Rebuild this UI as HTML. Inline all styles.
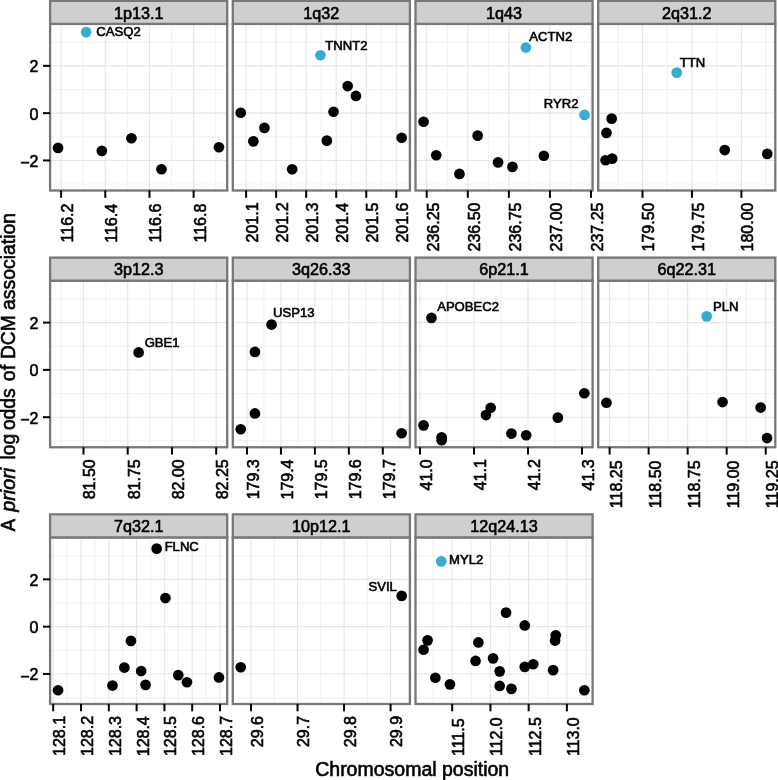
<!DOCTYPE html>
<html><head><meta charset="utf-8"><style>
html,body{margin:0;padding:0;background:#fff;}
svg{display:block;will-change:transform;}
text{font-family:"Liberation Sans",sans-serif;fill:#000;stroke:#000;stroke-width:0.6px;}
.ax{font-size:16.0px;}
.lab{font-size:13.1px;}
.st{font-size:16.2px;}
.xt{font-size:16.0px;}
.tt{font-size:20.5px;}
</style></head><body>
<svg width="778" height="780" viewBox="0 0 778 780">
<rect width="778" height="780" fill="#fff"/>
<rect x="50.1" y="23.9" width="177.1" height="166.6" fill="#fff"/>
<line x1="83.19" y1="23.9" x2="83.19" y2="190.5" stroke="#f3f3f3" stroke-width="1.25"/>
<line x1="127.35" y1="23.9" x2="127.35" y2="190.5" stroke="#f3f3f3" stroke-width="1.25"/>
<line x1="171.53" y1="23.9" x2="171.53" y2="190.5" stroke="#f3f3f3" stroke-width="1.25"/>
<line x1="215.69" y1="23.9" x2="215.69" y2="190.5" stroke="#f3f3f3" stroke-width="1.25"/>
<line x1="50.1" y1="42.2" x2="227.2" y2="42.2" stroke="#f3f3f3" stroke-width="1.25"/>
<line x1="50.1" y1="89.5" x2="227.2" y2="89.5" stroke="#f3f3f3" stroke-width="1.25"/>
<line x1="50.1" y1="136.8" x2="227.2" y2="136.8" stroke="#f3f3f3" stroke-width="1.25"/>
<line x1="50.1" y1="184.1" x2="227.2" y2="184.1" stroke="#f3f3f3" stroke-width="1.25"/>
<line x1="61.1" y1="23.9" x2="61.1" y2="190.5" stroke="#e6e6e6" stroke-width="1.1"/>
<line x1="105.27" y1="23.9" x2="105.27" y2="190.5" stroke="#e6e6e6" stroke-width="1.1"/>
<line x1="149.44" y1="23.9" x2="149.44" y2="190.5" stroke="#e6e6e6" stroke-width="1.1"/>
<line x1="193.61" y1="23.9" x2="193.61" y2="190.5" stroke="#e6e6e6" stroke-width="1.1"/>
<line x1="50.1" y1="65.85" x2="227.2" y2="65.85" stroke="#e6e6e6" stroke-width="1.1"/>
<line x1="50.1" y1="113.15" x2="227.2" y2="113.15" stroke="#e6e6e6" stroke-width="1.1"/>
<line x1="50.1" y1="160.45" x2="227.2" y2="160.45" stroke="#e6e6e6" stroke-width="1.1"/>
<circle cx="86.15" cy="32.15" r="5.35" fill="#39abd0"/>
<circle cx="58.05" cy="147.95" r="5.35" fill="#000"/>
<circle cx="101.85" cy="150.85" r="5.35" fill="#000"/>
<circle cx="131.45" cy="138.25" r="5.35" fill="#000"/>
<circle cx="161.45" cy="169.25" r="5.35" fill="#000"/>
<circle cx="218.95" cy="147.25" r="5.35" fill="#000"/>
<text x="96.33" y="36.2" class="lab">CASQ2</text>
<rect x="50.1" y="23.9" width="177.1" height="166.6" fill="none" stroke="#777777" stroke-width="2.3"/>
<rect x="50.1" y="0.85" width="177.1" height="23.05" fill="#cfcfcf" stroke="#777777" stroke-width="2.3"/>
<text x="138.65" y="19.25" text-anchor="middle" class="st">1p13.1</text>
<line x1="61.1" y1="190.5" x2="61.1" y2="197.8" stroke="#000" stroke-width="2"/>
<text transform="translate(73 242.43) rotate(-90)" class="xt">116.2</text>
<line x1="105.27" y1="190.5" x2="105.27" y2="197.8" stroke="#000" stroke-width="2"/>
<text transform="translate(117.17 242.77) rotate(-90)" class="xt">116.4</text>
<line x1="149.44" y1="190.5" x2="149.44" y2="197.8" stroke="#000" stroke-width="2"/>
<text transform="translate(161.34 242.54) rotate(-90)" class="xt">116.6</text>
<line x1="193.61" y1="190.5" x2="193.61" y2="197.8" stroke="#000" stroke-width="2"/>
<text transform="translate(205.51 242.54) rotate(-90)" class="xt">116.8</text>
<rect x="232.8" y="23.9" width="177.1" height="166.6" fill="#fff"/>
<line x1="261.12" y1="23.9" x2="261.12" y2="190.5" stroke="#f3f3f3" stroke-width="1.25"/>
<line x1="291.16" y1="23.9" x2="291.16" y2="190.5" stroke="#f3f3f3" stroke-width="1.25"/>
<line x1="321.2" y1="23.9" x2="321.2" y2="190.5" stroke="#f3f3f3" stroke-width="1.25"/>
<line x1="351.24" y1="23.9" x2="351.24" y2="190.5" stroke="#f3f3f3" stroke-width="1.25"/>
<line x1="381.28" y1="23.9" x2="381.28" y2="190.5" stroke="#f3f3f3" stroke-width="1.25"/>
<line x1="232.8" y1="42.2" x2="409.9" y2="42.2" stroke="#f3f3f3" stroke-width="1.25"/>
<line x1="232.8" y1="89.5" x2="409.9" y2="89.5" stroke="#f3f3f3" stroke-width="1.25"/>
<line x1="232.8" y1="136.8" x2="409.9" y2="136.8" stroke="#f3f3f3" stroke-width="1.25"/>
<line x1="232.8" y1="184.1" x2="409.9" y2="184.1" stroke="#f3f3f3" stroke-width="1.25"/>
<line x1="246.1" y1="23.9" x2="246.1" y2="190.5" stroke="#e6e6e6" stroke-width="1.1"/>
<line x1="276.14" y1="23.9" x2="276.14" y2="190.5" stroke="#e6e6e6" stroke-width="1.1"/>
<line x1="306.18" y1="23.9" x2="306.18" y2="190.5" stroke="#e6e6e6" stroke-width="1.1"/>
<line x1="336.22" y1="23.9" x2="336.22" y2="190.5" stroke="#e6e6e6" stroke-width="1.1"/>
<line x1="366.26" y1="23.9" x2="366.26" y2="190.5" stroke="#e6e6e6" stroke-width="1.1"/>
<line x1="396.3" y1="23.9" x2="396.3" y2="190.5" stroke="#e6e6e6" stroke-width="1.1"/>
<line x1="232.8" y1="65.85" x2="409.9" y2="65.85" stroke="#e6e6e6" stroke-width="1.1"/>
<line x1="232.8" y1="113.15" x2="409.9" y2="113.15" stroke="#e6e6e6" stroke-width="1.1"/>
<line x1="232.8" y1="160.45" x2="409.9" y2="160.45" stroke="#e6e6e6" stroke-width="1.1"/>
<circle cx="320.45" cy="55.25" r="5.35" fill="#39abd0"/>
<circle cx="240.75" cy="112.75" r="5.35" fill="#000"/>
<circle cx="253.35" cy="141.35" r="5.35" fill="#000"/>
<circle cx="264.45" cy="127.85" r="5.35" fill="#000"/>
<circle cx="292.15" cy="169.25" r="5.35" fill="#000"/>
<circle cx="326.85" cy="140.65" r="5.35" fill="#000"/>
<circle cx="333.55" cy="111.75" r="5.35" fill="#000"/>
<circle cx="347.65" cy="86.05" r="5.35" fill="#000"/>
<circle cx="355.95" cy="95.95" r="5.35" fill="#000"/>
<circle cx="401.65" cy="137.75" r="5.35" fill="#000"/>
<text x="325.31" y="50.3" class="lab">TNNT2</text>
<rect x="232.8" y="23.9" width="177.1" height="166.6" fill="none" stroke="#777777" stroke-width="2.3"/>
<rect x="232.8" y="0.85" width="177.1" height="23.05" fill="#cfcfcf" stroke="#777777" stroke-width="2.3"/>
<text x="321.35" y="19.25" text-anchor="middle" class="st">1q32</text>
<line x1="246.1" y1="190.5" x2="246.1" y2="197.8" stroke="#000" stroke-width="2"/>
<text transform="translate(258 242.46) rotate(-90)" class="xt">201.1</text>
<line x1="276.14" y1="190.5" x2="276.14" y2="197.8" stroke="#000" stroke-width="2"/>
<text transform="translate(288.04 242.43) rotate(-90)" class="xt">201.2</text>
<line x1="306.18" y1="190.5" x2="306.18" y2="197.8" stroke="#000" stroke-width="2"/>
<text transform="translate(318.08 242.54) rotate(-90)" class="xt">201.3</text>
<line x1="336.22" y1="190.5" x2="336.22" y2="197.8" stroke="#000" stroke-width="2"/>
<text transform="translate(348.12 242.77) rotate(-90)" class="xt">201.4</text>
<line x1="366.26" y1="190.5" x2="366.26" y2="197.8" stroke="#000" stroke-width="2"/>
<text transform="translate(378.16 242.57) rotate(-90)" class="xt">201.5</text>
<line x1="396.3" y1="190.5" x2="396.3" y2="197.8" stroke="#000" stroke-width="2"/>
<text transform="translate(408.2 242.54) rotate(-90)" class="xt">201.6</text>
<rect x="415.5" y="23.9" width="177.1" height="166.6" fill="#fff"/>
<line x1="447.24" y1="23.9" x2="447.24" y2="190.5" stroke="#f3f3f3" stroke-width="1.25"/>
<line x1="488.32" y1="23.9" x2="488.32" y2="190.5" stroke="#f3f3f3" stroke-width="1.25"/>
<line x1="529.4" y1="23.9" x2="529.4" y2="190.5" stroke="#f3f3f3" stroke-width="1.25"/>
<line x1="570.48" y1="23.9" x2="570.48" y2="190.5" stroke="#f3f3f3" stroke-width="1.25"/>
<line x1="415.5" y1="42.2" x2="592.6" y2="42.2" stroke="#f3f3f3" stroke-width="1.25"/>
<line x1="415.5" y1="89.5" x2="592.6" y2="89.5" stroke="#f3f3f3" stroke-width="1.25"/>
<line x1="415.5" y1="136.8" x2="592.6" y2="136.8" stroke="#f3f3f3" stroke-width="1.25"/>
<line x1="415.5" y1="184.1" x2="592.6" y2="184.1" stroke="#f3f3f3" stroke-width="1.25"/>
<line x1="426.7" y1="23.9" x2="426.7" y2="190.5" stroke="#e6e6e6" stroke-width="1.1"/>
<line x1="467.78" y1="23.9" x2="467.78" y2="190.5" stroke="#e6e6e6" stroke-width="1.1"/>
<line x1="508.86" y1="23.9" x2="508.86" y2="190.5" stroke="#e6e6e6" stroke-width="1.1"/>
<line x1="549.94" y1="23.9" x2="549.94" y2="190.5" stroke="#e6e6e6" stroke-width="1.1"/>
<line x1="591.02" y1="23.9" x2="591.02" y2="190.5" stroke="#e6e6e6" stroke-width="1.1"/>
<line x1="415.5" y1="65.85" x2="592.6" y2="65.85" stroke="#e6e6e6" stroke-width="1.1"/>
<line x1="415.5" y1="113.15" x2="592.6" y2="113.15" stroke="#e6e6e6" stroke-width="1.1"/>
<line x1="415.5" y1="160.45" x2="592.6" y2="160.45" stroke="#e6e6e6" stroke-width="1.1"/>
<circle cx="525.85" cy="47.55" r="5.35" fill="#39abd0"/>
<circle cx="584.55" cy="114.95" r="5.35" fill="#39abd0"/>
<circle cx="423.55" cy="121.75" r="5.35" fill="#000"/>
<circle cx="436.25" cy="155.25" r="5.35" fill="#000"/>
<circle cx="459.45" cy="173.95" r="5.35" fill="#000"/>
<circle cx="477.65" cy="135.65" r="5.35" fill="#000"/>
<circle cx="498.05" cy="162.35" r="5.35" fill="#000"/>
<circle cx="512.45" cy="166.85" r="5.35" fill="#000"/>
<circle cx="543.85" cy="155.75" r="5.35" fill="#000"/>
<text x="529.37" y="40.6" class="lab">ACTN2</text>
<text x="543.81" y="108.4" class="lab">RYR2</text>
<rect x="415.5" y="23.9" width="177.1" height="166.6" fill="none" stroke="#777777" stroke-width="2.3"/>
<rect x="415.5" y="0.85" width="177.1" height="23.05" fill="#cfcfcf" stroke="#777777" stroke-width="2.3"/>
<text x="504.05" y="19.25" text-anchor="middle" class="st">1q43</text>
<line x1="426.7" y1="190.5" x2="426.7" y2="197.8" stroke="#000" stroke-width="2"/>
<text transform="translate(438.6 251.47) rotate(-90)" class="xt">236.25</text>
<line x1="467.78" y1="190.5" x2="467.78" y2="197.8" stroke="#000" stroke-width="2"/>
<text transform="translate(479.68 251.51) rotate(-90)" class="xt">236.50</text>
<line x1="508.86" y1="190.5" x2="508.86" y2="197.8" stroke="#000" stroke-width="2"/>
<text transform="translate(520.76 251.47) rotate(-90)" class="xt">236.75</text>
<line x1="549.94" y1="190.5" x2="549.94" y2="197.8" stroke="#000" stroke-width="2"/>
<text transform="translate(561.84 251.51) rotate(-90)" class="xt">237.00</text>
<line x1="591.02" y1="190.5" x2="591.02" y2="197.8" stroke="#000" stroke-width="2"/>
<text transform="translate(602.92 251.47) rotate(-90)" class="xt">237.25</text>
<rect x="598.2" y="23.9" width="177.1" height="166.6" fill="#fff"/>
<line x1="617.77" y1="23.9" x2="617.77" y2="190.5" stroke="#f3f3f3" stroke-width="1.25"/>
<line x1="667.23" y1="23.9" x2="667.23" y2="190.5" stroke="#f3f3f3" stroke-width="1.25"/>
<line x1="716.67" y1="23.9" x2="716.67" y2="190.5" stroke="#f3f3f3" stroke-width="1.25"/>
<line x1="766.12" y1="23.9" x2="766.12" y2="190.5" stroke="#f3f3f3" stroke-width="1.25"/>
<line x1="598.2" y1="42.2" x2="775.3" y2="42.2" stroke="#f3f3f3" stroke-width="1.25"/>
<line x1="598.2" y1="89.5" x2="775.3" y2="89.5" stroke="#f3f3f3" stroke-width="1.25"/>
<line x1="598.2" y1="136.8" x2="775.3" y2="136.8" stroke="#f3f3f3" stroke-width="1.25"/>
<line x1="598.2" y1="184.1" x2="775.3" y2="184.1" stroke="#f3f3f3" stroke-width="1.25"/>
<line x1="642.5" y1="23.9" x2="642.5" y2="190.5" stroke="#e6e6e6" stroke-width="1.1"/>
<line x1="691.95" y1="23.9" x2="691.95" y2="190.5" stroke="#e6e6e6" stroke-width="1.1"/>
<line x1="741.4" y1="23.9" x2="741.4" y2="190.5" stroke="#e6e6e6" stroke-width="1.1"/>
<line x1="598.2" y1="65.85" x2="775.3" y2="65.85" stroke="#e6e6e6" stroke-width="1.1"/>
<line x1="598.2" y1="113.15" x2="775.3" y2="113.15" stroke="#e6e6e6" stroke-width="1.1"/>
<line x1="598.2" y1="160.45" x2="775.3" y2="160.45" stroke="#e6e6e6" stroke-width="1.1"/>
<circle cx="676.75" cy="72.65" r="5.35" fill="#39abd0"/>
<circle cx="611.65" cy="118.65" r="5.35" fill="#000"/>
<circle cx="606.45" cy="132.85" r="5.35" fill="#000"/>
<circle cx="605.55" cy="160.25" r="5.35" fill="#000"/>
<circle cx="612.15" cy="158.65" r="5.35" fill="#000"/>
<circle cx="724.75" cy="150.05" r="5.35" fill="#000"/>
<circle cx="767.25" cy="153.85" r="5.35" fill="#000"/>
<text x="679.81" y="67.3" class="lab">TTN</text>
<rect x="598.2" y="23.9" width="177.1" height="166.6" fill="none" stroke="#777777" stroke-width="2.3"/>
<rect x="598.2" y="0.85" width="177.1" height="23.05" fill="#cfcfcf" stroke="#777777" stroke-width="2.3"/>
<text x="686.75" y="19.25" text-anchor="middle" class="st">2q31.2</text>
<line x1="642.5" y1="190.5" x2="642.5" y2="197.8" stroke="#000" stroke-width="2"/>
<text transform="translate(654.4 251.51) rotate(-90)" class="xt">179.50</text>
<line x1="691.95" y1="190.5" x2="691.95" y2="197.8" stroke="#000" stroke-width="2"/>
<text transform="translate(703.85 251.47) rotate(-90)" class="xt">179.75</text>
<line x1="741.4" y1="190.5" x2="741.4" y2="197.8" stroke="#000" stroke-width="2"/>
<text transform="translate(753.3 251.51) rotate(-90)" class="xt">180.00</text>
<rect x="50.1" y="280.65" width="177.1" height="166.6" fill="#fff"/>
<line x1="61.39" y1="280.65" x2="61.39" y2="447.25" stroke="#f3f3f3" stroke-width="1.25"/>
<line x1="105.61" y1="280.65" x2="105.61" y2="447.25" stroke="#f3f3f3" stroke-width="1.25"/>
<line x1="149.84" y1="280.65" x2="149.84" y2="447.25" stroke="#f3f3f3" stroke-width="1.25"/>
<line x1="194.07" y1="280.65" x2="194.07" y2="447.25" stroke="#f3f3f3" stroke-width="1.25"/>
<line x1="50.1" y1="298.95" x2="227.2" y2="298.95" stroke="#f3f3f3" stroke-width="1.25"/>
<line x1="50.1" y1="346.25" x2="227.2" y2="346.25" stroke="#f3f3f3" stroke-width="1.25"/>
<line x1="50.1" y1="393.55" x2="227.2" y2="393.55" stroke="#f3f3f3" stroke-width="1.25"/>
<line x1="50.1" y1="440.85" x2="227.2" y2="440.85" stroke="#f3f3f3" stroke-width="1.25"/>
<line x1="83.5" y1="280.65" x2="83.5" y2="447.25" stroke="#e6e6e6" stroke-width="1.1"/>
<line x1="127.73" y1="280.65" x2="127.73" y2="447.25" stroke="#e6e6e6" stroke-width="1.1"/>
<line x1="171.96" y1="280.65" x2="171.96" y2="447.25" stroke="#e6e6e6" stroke-width="1.1"/>
<line x1="216.19" y1="280.65" x2="216.19" y2="447.25" stroke="#e6e6e6" stroke-width="1.1"/>
<line x1="50.1" y1="322.6" x2="227.2" y2="322.6" stroke="#e6e6e6" stroke-width="1.1"/>
<line x1="50.1" y1="369.9" x2="227.2" y2="369.9" stroke="#e6e6e6" stroke-width="1.1"/>
<line x1="50.1" y1="417.2" x2="227.2" y2="417.2" stroke="#e6e6e6" stroke-width="1.1"/>
<circle cx="138.65" cy="352.45" r="5.35" fill="#000"/>
<text x="144.64" y="346.8" class="lab">GBE1</text>
<rect x="50.1" y="280.65" width="177.1" height="166.6" fill="none" stroke="#777777" stroke-width="2.3"/>
<rect x="50.1" y="257.6" width="177.1" height="23.05" fill="#cfcfcf" stroke="#777777" stroke-width="2.3"/>
<text x="138.65" y="275.2" text-anchor="middle" class="st">3p12.3</text>
<line x1="83.5" y1="447.25" x2="83.5" y2="454.55" stroke="#000" stroke-width="2"/>
<text transform="translate(95.4 499.36) rotate(-90)" class="xt">81.50</text>
<line x1="127.73" y1="447.25" x2="127.73" y2="454.55" stroke="#000" stroke-width="2"/>
<text transform="translate(139.63 499.32) rotate(-90)" class="xt">81.75</text>
<line x1="171.96" y1="447.25" x2="171.96" y2="454.55" stroke="#000" stroke-width="2"/>
<text transform="translate(183.86 499.36) rotate(-90)" class="xt">82.00</text>
<line x1="216.19" y1="447.25" x2="216.19" y2="454.55" stroke="#000" stroke-width="2"/>
<text transform="translate(228.09 499.32) rotate(-90)" class="xt">82.25</text>
<rect x="232.8" y="280.65" width="177.1" height="166.6" fill="#fff"/>
<line x1="263.98" y1="280.65" x2="263.98" y2="447.25" stroke="#f3f3f3" stroke-width="1.25"/>
<line x1="297.93" y1="280.65" x2="297.93" y2="447.25" stroke="#f3f3f3" stroke-width="1.25"/>
<line x1="331.88" y1="280.65" x2="331.88" y2="447.25" stroke="#f3f3f3" stroke-width="1.25"/>
<line x1="365.83" y1="280.65" x2="365.83" y2="447.25" stroke="#f3f3f3" stroke-width="1.25"/>
<line x1="399.77" y1="280.65" x2="399.77" y2="447.25" stroke="#f3f3f3" stroke-width="1.25"/>
<line x1="232.8" y1="298.95" x2="409.9" y2="298.95" stroke="#f3f3f3" stroke-width="1.25"/>
<line x1="232.8" y1="346.25" x2="409.9" y2="346.25" stroke="#f3f3f3" stroke-width="1.25"/>
<line x1="232.8" y1="393.55" x2="409.9" y2="393.55" stroke="#f3f3f3" stroke-width="1.25"/>
<line x1="232.8" y1="440.85" x2="409.9" y2="440.85" stroke="#f3f3f3" stroke-width="1.25"/>
<line x1="247" y1="280.65" x2="247" y2="447.25" stroke="#e6e6e6" stroke-width="1.1"/>
<line x1="280.95" y1="280.65" x2="280.95" y2="447.25" stroke="#e6e6e6" stroke-width="1.1"/>
<line x1="314.9" y1="280.65" x2="314.9" y2="447.25" stroke="#e6e6e6" stroke-width="1.1"/>
<line x1="348.85" y1="280.65" x2="348.85" y2="447.25" stroke="#e6e6e6" stroke-width="1.1"/>
<line x1="382.8" y1="280.65" x2="382.8" y2="447.25" stroke="#e6e6e6" stroke-width="1.1"/>
<line x1="232.8" y1="322.6" x2="409.9" y2="322.6" stroke="#e6e6e6" stroke-width="1.1"/>
<line x1="232.8" y1="369.9" x2="409.9" y2="369.9" stroke="#e6e6e6" stroke-width="1.1"/>
<line x1="232.8" y1="417.2" x2="409.9" y2="417.2" stroke="#e6e6e6" stroke-width="1.1"/>
<circle cx="271.55" cy="324.55" r="5.35" fill="#000"/>
<circle cx="254.95" cy="351.95" r="5.35" fill="#000"/>
<circle cx="254.95" cy="413.45" r="5.35" fill="#000"/>
<circle cx="240.75" cy="429.25" r="5.35" fill="#000"/>
<circle cx="401.65" cy="433.25" r="5.35" fill="#000"/>
<text x="272.99" y="317.1" class="lab">USP13</text>
<rect x="232.8" y="280.65" width="177.1" height="166.6" fill="none" stroke="#777777" stroke-width="2.3"/>
<rect x="232.8" y="257.6" width="177.1" height="23.05" fill="#cfcfcf" stroke="#777777" stroke-width="2.3"/>
<text x="321.35" y="275.2" text-anchor="middle" class="st">3q26.33</text>
<line x1="247" y1="447.25" x2="247" y2="454.55" stroke="#000" stroke-width="2"/>
<text transform="translate(258.9 499.29) rotate(-90)" class="xt">179.3</text>
<line x1="280.95" y1="447.25" x2="280.95" y2="454.55" stroke="#000" stroke-width="2"/>
<text transform="translate(292.85 499.52) rotate(-90)" class="xt">179.4</text>
<line x1="314.9" y1="447.25" x2="314.9" y2="454.55" stroke="#000" stroke-width="2"/>
<text transform="translate(326.8 499.32) rotate(-90)" class="xt">179.5</text>
<line x1="348.85" y1="447.25" x2="348.85" y2="454.55" stroke="#000" stroke-width="2"/>
<text transform="translate(360.75 499.29) rotate(-90)" class="xt">179.6</text>
<line x1="382.8" y1="447.25" x2="382.8" y2="454.55" stroke="#000" stroke-width="2"/>
<text transform="translate(394.7 499.18) rotate(-90)" class="xt">179.7</text>
<rect x="415.5" y="280.65" width="177.1" height="166.6" fill="#fff"/>
<line x1="447" y1="280.65" x2="447" y2="447.25" stroke="#f3f3f3" stroke-width="1.25"/>
<line x1="501" y1="280.65" x2="501" y2="447.25" stroke="#f3f3f3" stroke-width="1.25"/>
<line x1="555" y1="280.65" x2="555" y2="447.25" stroke="#f3f3f3" stroke-width="1.25"/>
<line x1="415.5" y1="298.95" x2="592.6" y2="298.95" stroke="#f3f3f3" stroke-width="1.25"/>
<line x1="415.5" y1="346.25" x2="592.6" y2="346.25" stroke="#f3f3f3" stroke-width="1.25"/>
<line x1="415.5" y1="393.55" x2="592.6" y2="393.55" stroke="#f3f3f3" stroke-width="1.25"/>
<line x1="415.5" y1="440.85" x2="592.6" y2="440.85" stroke="#f3f3f3" stroke-width="1.25"/>
<line x1="420" y1="280.65" x2="420" y2="447.25" stroke="#e6e6e6" stroke-width="1.1"/>
<line x1="474" y1="280.65" x2="474" y2="447.25" stroke="#e6e6e6" stroke-width="1.1"/>
<line x1="528" y1="280.65" x2="528" y2="447.25" stroke="#e6e6e6" stroke-width="1.1"/>
<line x1="582" y1="280.65" x2="582" y2="447.25" stroke="#e6e6e6" stroke-width="1.1"/>
<line x1="415.5" y1="322.6" x2="592.6" y2="322.6" stroke="#e6e6e6" stroke-width="1.1"/>
<line x1="415.5" y1="369.9" x2="592.6" y2="369.9" stroke="#e6e6e6" stroke-width="1.1"/>
<line x1="415.5" y1="417.2" x2="592.6" y2="417.2" stroke="#e6e6e6" stroke-width="1.1"/>
<circle cx="431.45" cy="317.95" r="5.35" fill="#000"/>
<circle cx="423.55" cy="425.35" r="5.35" fill="#000"/>
<circle cx="441.65" cy="437.35" r="5.35" fill="#000"/>
<circle cx="441.65" cy="440.15" r="5.35" fill="#000"/>
<circle cx="485.95" cy="415.05" r="5.35" fill="#000"/>
<circle cx="490.65" cy="407.75" r="5.35" fill="#000"/>
<circle cx="511.45" cy="433.55" r="5.35" fill="#000"/>
<circle cx="526.15" cy="435.25" r="5.35" fill="#000"/>
<circle cx="557.85" cy="417.65" r="5.35" fill="#000"/>
<circle cx="584.35" cy="393.25" r="5.35" fill="#000"/>
<text x="437.17" y="311.4" class="lab">APOBEC2</text>
<rect x="415.5" y="280.65" width="177.1" height="166.6" fill="none" stroke="#777777" stroke-width="2.3"/>
<rect x="415.5" y="257.6" width="177.1" height="23.05" fill="#cfcfcf" stroke="#777777" stroke-width="2.3"/>
<text x="504.05" y="275.2" text-anchor="middle" class="st">6p21.1</text>
<line x1="420" y1="447.25" x2="420" y2="454.55" stroke="#000" stroke-width="2"/>
<text transform="translate(431.9 490.47) rotate(-90)" class="xt">41.0</text>
<line x1="474" y1="447.25" x2="474" y2="454.55" stroke="#000" stroke-width="2"/>
<text transform="translate(485.9 490.31) rotate(-90)" class="xt">41.1</text>
<line x1="528" y1="447.25" x2="528" y2="454.55" stroke="#000" stroke-width="2"/>
<text transform="translate(539.9 490.29) rotate(-90)" class="xt">41.2</text>
<line x1="582" y1="447.25" x2="582" y2="454.55" stroke="#000" stroke-width="2"/>
<text transform="translate(593.9 490.39) rotate(-90)" class="xt">41.3</text>
<rect x="598.2" y="280.65" width="177.1" height="166.6" fill="#fff"/>
<line x1="629.12" y1="280.65" x2="629.12" y2="447.25" stroke="#f3f3f3" stroke-width="1.25"/>
<line x1="668.14" y1="280.65" x2="668.14" y2="447.25" stroke="#f3f3f3" stroke-width="1.25"/>
<line x1="707.18" y1="280.65" x2="707.18" y2="447.25" stroke="#f3f3f3" stroke-width="1.25"/>
<line x1="746.21" y1="280.65" x2="746.21" y2="447.25" stroke="#f3f3f3" stroke-width="1.25"/>
<line x1="598.2" y1="298.95" x2="775.3" y2="298.95" stroke="#f3f3f3" stroke-width="1.25"/>
<line x1="598.2" y1="346.25" x2="775.3" y2="346.25" stroke="#f3f3f3" stroke-width="1.25"/>
<line x1="598.2" y1="393.55" x2="775.3" y2="393.55" stroke="#f3f3f3" stroke-width="1.25"/>
<line x1="598.2" y1="440.85" x2="775.3" y2="440.85" stroke="#f3f3f3" stroke-width="1.25"/>
<line x1="609.6" y1="280.65" x2="609.6" y2="447.25" stroke="#e6e6e6" stroke-width="1.1"/>
<line x1="648.63" y1="280.65" x2="648.63" y2="447.25" stroke="#e6e6e6" stroke-width="1.1"/>
<line x1="687.66" y1="280.65" x2="687.66" y2="447.25" stroke="#e6e6e6" stroke-width="1.1"/>
<line x1="726.69" y1="280.65" x2="726.69" y2="447.25" stroke="#e6e6e6" stroke-width="1.1"/>
<line x1="765.72" y1="280.65" x2="765.72" y2="447.25" stroke="#e6e6e6" stroke-width="1.1"/>
<line x1="598.2" y1="322.6" x2="775.3" y2="322.6" stroke="#e6e6e6" stroke-width="1.1"/>
<line x1="598.2" y1="369.9" x2="775.3" y2="369.9" stroke="#e6e6e6" stroke-width="1.1"/>
<line x1="598.2" y1="417.2" x2="775.3" y2="417.2" stroke="#e6e6e6" stroke-width="1.1"/>
<circle cx="706.65" cy="316.35" r="5.35" fill="#39abd0"/>
<circle cx="606.45" cy="402.75" r="5.35" fill="#000"/>
<circle cx="722.55" cy="402.05" r="5.35" fill="#000"/>
<circle cx="760.65" cy="407.55" r="5.35" fill="#000"/>
<circle cx="767.05" cy="438.05" r="5.35" fill="#000"/>
<text x="712.93" y="311.3" class="lab">PLN</text>
<rect x="598.2" y="280.65" width="177.1" height="166.6" fill="none" stroke="#777777" stroke-width="2.3"/>
<rect x="598.2" y="257.6" width="177.1" height="23.05" fill="#cfcfcf" stroke="#777777" stroke-width="2.3"/>
<text x="686.75" y="275.2" text-anchor="middle" class="st">6q22.31</text>
<line x1="609.6" y1="447.25" x2="609.6" y2="454.55" stroke="#000" stroke-width="2"/>
<text transform="translate(621.5 508.22) rotate(-90)" class="xt">118.25</text>
<line x1="648.63" y1="447.25" x2="648.63" y2="454.55" stroke="#000" stroke-width="2"/>
<text transform="translate(660.53 508.26) rotate(-90)" class="xt">118.50</text>
<line x1="687.66" y1="447.25" x2="687.66" y2="454.55" stroke="#000" stroke-width="2"/>
<text transform="translate(699.56 508.22) rotate(-90)" class="xt">118.75</text>
<line x1="726.69" y1="447.25" x2="726.69" y2="454.55" stroke="#000" stroke-width="2"/>
<text transform="translate(738.59 508.26) rotate(-90)" class="xt">119.00</text>
<line x1="765.72" y1="447.25" x2="765.72" y2="454.55" stroke="#000" stroke-width="2"/>
<text transform="translate(777.62 508.22) rotate(-90)" class="xt">119.25</text>
<rect x="50.1" y="537.4" width="177.1" height="166.6" fill="#fff"/>
<line x1="67.1" y1="537.4" x2="67.1" y2="704" stroke="#f3f3f3" stroke-width="1.25"/>
<line x1="94.9" y1="537.4" x2="94.9" y2="704" stroke="#f3f3f3" stroke-width="1.25"/>
<line x1="122.7" y1="537.4" x2="122.7" y2="704" stroke="#f3f3f3" stroke-width="1.25"/>
<line x1="150.5" y1="537.4" x2="150.5" y2="704" stroke="#f3f3f3" stroke-width="1.25"/>
<line x1="178.3" y1="537.4" x2="178.3" y2="704" stroke="#f3f3f3" stroke-width="1.25"/>
<line x1="206.1" y1="537.4" x2="206.1" y2="704" stroke="#f3f3f3" stroke-width="1.25"/>
<line x1="50.1" y1="555.7" x2="227.2" y2="555.7" stroke="#f3f3f3" stroke-width="1.25"/>
<line x1="50.1" y1="603" x2="227.2" y2="603" stroke="#f3f3f3" stroke-width="1.25"/>
<line x1="50.1" y1="650.3" x2="227.2" y2="650.3" stroke="#f3f3f3" stroke-width="1.25"/>
<line x1="50.1" y1="697.6" x2="227.2" y2="697.6" stroke="#f3f3f3" stroke-width="1.25"/>
<line x1="53.2" y1="537.4" x2="53.2" y2="704" stroke="#e6e6e6" stroke-width="1.1"/>
<line x1="81" y1="537.4" x2="81" y2="704" stroke="#e6e6e6" stroke-width="1.1"/>
<line x1="108.8" y1="537.4" x2="108.8" y2="704" stroke="#e6e6e6" stroke-width="1.1"/>
<line x1="136.6" y1="537.4" x2="136.6" y2="704" stroke="#e6e6e6" stroke-width="1.1"/>
<line x1="164.4" y1="537.4" x2="164.4" y2="704" stroke="#e6e6e6" stroke-width="1.1"/>
<line x1="192.2" y1="537.4" x2="192.2" y2="704" stroke="#e6e6e6" stroke-width="1.1"/>
<line x1="220" y1="537.4" x2="220" y2="704" stroke="#e6e6e6" stroke-width="1.1"/>
<line x1="50.1" y1="579.35" x2="227.2" y2="579.35" stroke="#e6e6e6" stroke-width="1.1"/>
<line x1="50.1" y1="626.65" x2="227.2" y2="626.65" stroke="#e6e6e6" stroke-width="1.1"/>
<line x1="50.1" y1="673.95" x2="227.2" y2="673.95" stroke="#e6e6e6" stroke-width="1.1"/>
<circle cx="156.65" cy="548.65" r="5.35" fill="#000"/>
<circle cx="165.45" cy="598.05" r="5.35" fill="#000"/>
<circle cx="130.95" cy="640.85" r="5.35" fill="#000"/>
<circle cx="124.35" cy="667.55" r="5.35" fill="#000"/>
<circle cx="141.15" cy="671.05" r="5.35" fill="#000"/>
<circle cx="112.45" cy="685.55" r="5.35" fill="#000"/>
<circle cx="145.55" cy="684.85" r="5.35" fill="#000"/>
<circle cx="178.25" cy="675.15" r="5.35" fill="#000"/>
<circle cx="186.95" cy="682.25" r="5.35" fill="#000"/>
<circle cx="218.95" cy="677.45" r="5.35" fill="#000"/>
<circle cx="58.05" cy="690.25" r="5.35" fill="#000"/>
<text x="164.63" y="551.4" class="lab">FLNC</text>
<rect x="50.1" y="537.4" width="177.1" height="166.6" fill="none" stroke="#777777" stroke-width="2.3"/>
<rect x="50.1" y="514.35" width="177.1" height="23.05" fill="#cfcfcf" stroke="#777777" stroke-width="2.3"/>
<text x="138.65" y="531.75" text-anchor="middle" class="st">7q32.1</text>
<line x1="53.2" y1="704" x2="53.2" y2="711.3" stroke="#000" stroke-width="2"/>
<text transform="translate(65.1 755.96) rotate(-90)" class="xt">128.1</text>
<line x1="81" y1="704" x2="81" y2="711.3" stroke="#000" stroke-width="2"/>
<text transform="translate(92.9 755.93) rotate(-90)" class="xt">128.2</text>
<line x1="108.8" y1="704" x2="108.8" y2="711.3" stroke="#000" stroke-width="2"/>
<text transform="translate(120.7 756.04) rotate(-90)" class="xt">128.3</text>
<line x1="136.6" y1="704" x2="136.6" y2="711.3" stroke="#000" stroke-width="2"/>
<text transform="translate(148.5 756.27) rotate(-90)" class="xt">128.4</text>
<line x1="164.4" y1="704" x2="164.4" y2="711.3" stroke="#000" stroke-width="2"/>
<text transform="translate(176.3 756.07) rotate(-90)" class="xt">128.5</text>
<line x1="192.2" y1="704" x2="192.2" y2="711.3" stroke="#000" stroke-width="2"/>
<text transform="translate(204.1 756.04) rotate(-90)" class="xt">128.6</text>
<line x1="220" y1="704" x2="220" y2="711.3" stroke="#000" stroke-width="2"/>
<text transform="translate(231.9 755.93) rotate(-90)" class="xt">128.7</text>
<rect x="232.8" y="537.4" width="177.1" height="166.6" fill="#fff"/>
<line x1="274.26" y1="537.4" x2="274.26" y2="704" stroke="#f3f3f3" stroke-width="1.25"/>
<line x1="320.8" y1="537.4" x2="320.8" y2="704" stroke="#f3f3f3" stroke-width="1.25"/>
<line x1="367.32" y1="537.4" x2="367.32" y2="704" stroke="#f3f3f3" stroke-width="1.25"/>
<line x1="232.8" y1="555.7" x2="409.9" y2="555.7" stroke="#f3f3f3" stroke-width="1.25"/>
<line x1="232.8" y1="603" x2="409.9" y2="603" stroke="#f3f3f3" stroke-width="1.25"/>
<line x1="232.8" y1="650.3" x2="409.9" y2="650.3" stroke="#f3f3f3" stroke-width="1.25"/>
<line x1="232.8" y1="697.6" x2="409.9" y2="697.6" stroke="#f3f3f3" stroke-width="1.25"/>
<line x1="251" y1="537.4" x2="251" y2="704" stroke="#e6e6e6" stroke-width="1.1"/>
<line x1="297.53" y1="537.4" x2="297.53" y2="704" stroke="#e6e6e6" stroke-width="1.1"/>
<line x1="344.06" y1="537.4" x2="344.06" y2="704" stroke="#e6e6e6" stroke-width="1.1"/>
<line x1="390.59" y1="537.4" x2="390.59" y2="704" stroke="#e6e6e6" stroke-width="1.1"/>
<line x1="232.8" y1="579.35" x2="409.9" y2="579.35" stroke="#e6e6e6" stroke-width="1.1"/>
<line x1="232.8" y1="626.65" x2="409.9" y2="626.65" stroke="#e6e6e6" stroke-width="1.1"/>
<line x1="232.8" y1="673.95" x2="409.9" y2="673.95" stroke="#e6e6e6" stroke-width="1.1"/>
<circle cx="401.65" cy="595.85" r="5.35" fill="#000"/>
<circle cx="240.75" cy="667.25" r="5.35" fill="#000"/>
<text x="368.43" y="590.8" class="lab">SVIL</text>
<rect x="232.8" y="537.4" width="177.1" height="166.6" fill="none" stroke="#777777" stroke-width="2.3"/>
<rect x="232.8" y="514.35" width="177.1" height="23.05" fill="#cfcfcf" stroke="#777777" stroke-width="2.3"/>
<text x="321.35" y="531.75" text-anchor="middle" class="st">10p12.1</text>
<line x1="251" y1="704" x2="251" y2="711.3" stroke="#000" stroke-width="2"/>
<text transform="translate(262.9 747.14) rotate(-90)" class="xt">29.6</text>
<line x1="297.53" y1="704" x2="297.53" y2="711.3" stroke="#000" stroke-width="2"/>
<text transform="translate(309.43 747.04) rotate(-90)" class="xt">29.7</text>
<line x1="344.06" y1="704" x2="344.06" y2="711.3" stroke="#000" stroke-width="2"/>
<text transform="translate(355.96 747.15) rotate(-90)" class="xt">29.8</text>
<line x1="390.59" y1="704" x2="390.59" y2="711.3" stroke="#000" stroke-width="2"/>
<text transform="translate(402.49 747.08) rotate(-90)" class="xt">29.9</text>
<rect x="415.5" y="537.4" width="177.1" height="166.6" fill="#fff"/>
<line x1="433.08" y1="537.4" x2="433.08" y2="704" stroke="#f3f3f3" stroke-width="1.25"/>
<line x1="471.31" y1="537.4" x2="471.31" y2="704" stroke="#f3f3f3" stroke-width="1.25"/>
<line x1="509.54" y1="537.4" x2="509.54" y2="704" stroke="#f3f3f3" stroke-width="1.25"/>
<line x1="547.77" y1="537.4" x2="547.77" y2="704" stroke="#f3f3f3" stroke-width="1.25"/>
<line x1="586" y1="537.4" x2="586" y2="704" stroke="#f3f3f3" stroke-width="1.25"/>
<line x1="415.5" y1="555.7" x2="592.6" y2="555.7" stroke="#f3f3f3" stroke-width="1.25"/>
<line x1="415.5" y1="603" x2="592.6" y2="603" stroke="#f3f3f3" stroke-width="1.25"/>
<line x1="415.5" y1="650.3" x2="592.6" y2="650.3" stroke="#f3f3f3" stroke-width="1.25"/>
<line x1="415.5" y1="697.6" x2="592.6" y2="697.6" stroke="#f3f3f3" stroke-width="1.25"/>
<line x1="452.2" y1="537.4" x2="452.2" y2="704" stroke="#e6e6e6" stroke-width="1.1"/>
<line x1="490.43" y1="537.4" x2="490.43" y2="704" stroke="#e6e6e6" stroke-width="1.1"/>
<line x1="528.66" y1="537.4" x2="528.66" y2="704" stroke="#e6e6e6" stroke-width="1.1"/>
<line x1="566.89" y1="537.4" x2="566.89" y2="704" stroke="#e6e6e6" stroke-width="1.1"/>
<line x1="415.5" y1="579.35" x2="592.6" y2="579.35" stroke="#e6e6e6" stroke-width="1.1"/>
<line x1="415.5" y1="626.65" x2="592.6" y2="626.65" stroke="#e6e6e6" stroke-width="1.1"/>
<line x1="415.5" y1="673.95" x2="592.6" y2="673.95" stroke="#e6e6e6" stroke-width="1.1"/>
<circle cx="441.25" cy="561.35" r="5.35" fill="#39abd0"/>
<circle cx="427.55" cy="640.35" r="5.35" fill="#000"/>
<circle cx="423.55" cy="649.75" r="5.35" fill="#000"/>
<circle cx="435.35" cy="677.75" r="5.35" fill="#000"/>
<circle cx="449.95" cy="684.35" r="5.35" fill="#000"/>
<circle cx="478.35" cy="642.45" r="5.35" fill="#000"/>
<circle cx="475.55" cy="660.95" r="5.35" fill="#000"/>
<circle cx="493.05" cy="658.35" r="5.35" fill="#000"/>
<circle cx="499.65" cy="671.35" r="5.35" fill="#000"/>
<circle cx="499.65" cy="685.95" r="5.35" fill="#000"/>
<circle cx="511.45" cy="688.85" r="5.35" fill="#000"/>
<circle cx="506.05" cy="612.65" r="5.35" fill="#000"/>
<circle cx="524.75" cy="625.45" r="5.35" fill="#000"/>
<circle cx="524.75" cy="666.85" r="5.35" fill="#000"/>
<circle cx="533.25" cy="664.25" r="5.35" fill="#000"/>
<circle cx="555.75" cy="635.35" r="5.35" fill="#000"/>
<circle cx="555.05" cy="640.55" r="5.35" fill="#000"/>
<circle cx="553.15" cy="670.15" r="5.35" fill="#000"/>
<circle cx="584.35" cy="690.25" r="5.35" fill="#000"/>
<text x="449.03" y="564.3" class="lab">MYL2</text>
<rect x="415.5" y="537.4" width="177.1" height="166.6" fill="none" stroke="#777777" stroke-width="2.3"/>
<rect x="415.5" y="514.35" width="177.1" height="23.05" fill="#cfcfcf" stroke="#777777" stroke-width="2.3"/>
<text x="504.05" y="531.75" text-anchor="middle" class="st">12q24.13</text>
<line x1="452.2" y1="704" x2="452.2" y2="711.3" stroke="#000" stroke-width="2"/>
<text transform="translate(464.1 756.07) rotate(-90)" class="xt">111.5</text>
<line x1="490.43" y1="704" x2="490.43" y2="711.3" stroke="#000" stroke-width="2"/>
<text transform="translate(502.33 756.11) rotate(-90)" class="xt">112.0</text>
<line x1="528.66" y1="704" x2="528.66" y2="711.3" stroke="#000" stroke-width="2"/>
<text transform="translate(540.56 756.07) rotate(-90)" class="xt">112.5</text>
<line x1="566.89" y1="704" x2="566.89" y2="711.3" stroke="#000" stroke-width="2"/>
<text transform="translate(578.79 756.11) rotate(-90)" class="xt">113.0</text>
<line x1="43" y1="65.85" x2="50.1" y2="65.85" stroke="#000" stroke-width="2"/>
<text x="38.5" y="72.25" text-anchor="end" class="ax">2</text>
<line x1="43" y1="113.15" x2="50.1" y2="113.15" stroke="#000" stroke-width="2"/>
<text x="38.5" y="119.55" text-anchor="end" class="ax">0</text>
<line x1="43" y1="160.45" x2="50.1" y2="160.45" stroke="#000" stroke-width="2"/>
<text x="38.5" y="166.85" text-anchor="end" class="ax"><tspan dy="1.3">−</tspan><tspan dy="-1.3">2</tspan></text>
<line x1="43" y1="322.6" x2="50.1" y2="322.6" stroke="#000" stroke-width="2"/>
<text x="38.5" y="329" text-anchor="end" class="ax">2</text>
<line x1="43" y1="369.9" x2="50.1" y2="369.9" stroke="#000" stroke-width="2"/>
<text x="38.5" y="376.3" text-anchor="end" class="ax">0</text>
<line x1="43" y1="417.2" x2="50.1" y2="417.2" stroke="#000" stroke-width="2"/>
<text x="38.5" y="423.6" text-anchor="end" class="ax"><tspan dy="1.3">−</tspan><tspan dy="-1.3">2</tspan></text>
<line x1="43" y1="579.35" x2="50.1" y2="579.35" stroke="#000" stroke-width="2"/>
<text x="38.5" y="585.75" text-anchor="end" class="ax">2</text>
<line x1="43" y1="626.65" x2="50.1" y2="626.65" stroke="#000" stroke-width="2"/>
<text x="38.5" y="633.05" text-anchor="end" class="ax">0</text>
<line x1="43" y1="673.95" x2="50.1" y2="673.95" stroke="#000" stroke-width="2"/>
<text x="38.5" y="680.35" text-anchor="end" class="ax"><tspan dy="1.3">−</tspan><tspan dy="-1.3">2</tspan></text>
<text x="315.21" y="775.7" style="font-size:19.5px">Chromosomal position</text>
<text transform="translate(14.6 531.14) rotate(-90)" style="font-size:19.75px" textLength="12.27" lengthAdjust="spacingAndGlyphs">A</text>
<text transform="translate(14.6 511.71) rotate(-90)" style="font-size:19.75px;font-style:italic" textLength="43.87" lengthAdjust="spacingAndGlyphs">priori</text>
<text transform="translate(14.6 459.39) rotate(-90)" style="font-size:19.75px" textLength="25.52" lengthAdjust="spacingAndGlyphs">log</text>
<text transform="translate(14.6 430.11) rotate(-90)" style="font-size:19.75px" textLength="41.81" lengthAdjust="spacingAndGlyphs">odds</text>
<text transform="translate(14.6 381.22) rotate(-90)" style="font-size:19.75px" textLength="16.29" lengthAdjust="spacingAndGlyphs">of</text>
<text transform="translate(14.6 358.97) rotate(-90)" style="font-size:19.75px" textLength="43.54" lengthAdjust="spacingAndGlyphs">DCM</text>
<text transform="translate(14.6 310.03) rotate(-90)" style="font-size:19.75px" textLength="97.19" lengthAdjust="spacingAndGlyphs">association</text>
</svg>
</body></html>
